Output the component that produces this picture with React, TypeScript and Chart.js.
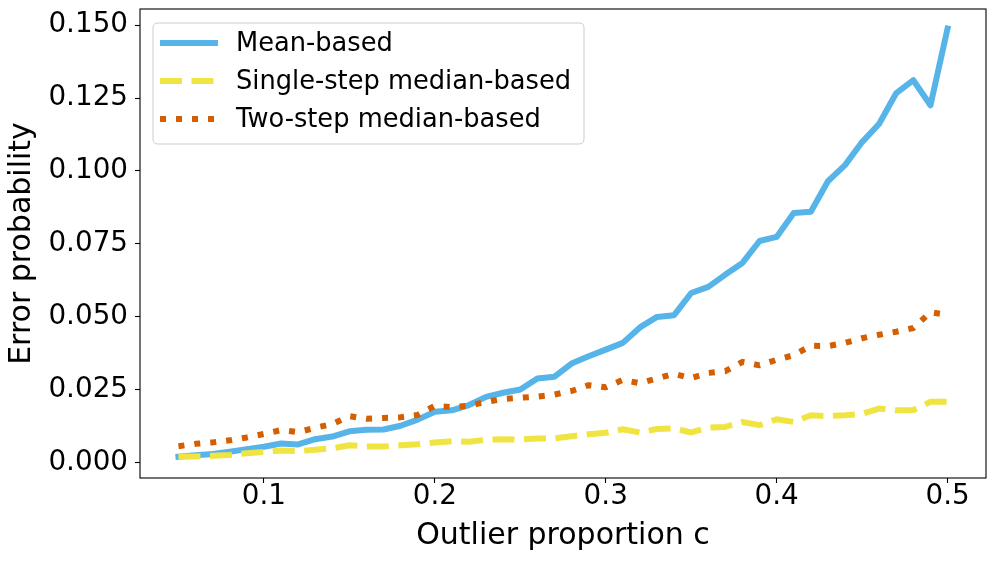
import React, { useEffect, useRef } from "react";
import { Chart, registerables } from "chart.js";

Chart.register(...registerables);

const proportions = [
  0.05, 0.06, 0.07, 0.08, 0.09, 0.1, 0.11, 0.12, 0.13, 0.14, 0.15, 0.16, 0.17, 0.18, 0.19, 0.2,
  0.21, 0.22, 0.23, 0.24, 0.25, 0.26, 0.27, 0.28, 0.29, 0.3, 0.31, 0.32, 0.33, 0.34, 0.35, 0.36,
  0.37, 0.38, 0.39, 0.4, 0.41, 0.42, 0.43, 0.44, 0.45, 0.46, 0.47, 0.48, 0.49, 0.5,
];

const meanBased = [
  0.0021, 0.0026, 0.003, 0.0038, 0.0047, 0.0055, 0.0066, 0.0063, 0.0081, 0.009, 0.0108, 0.0113,
  0.0114, 0.0127, 0.0148, 0.0175, 0.018, 0.0198, 0.0226, 0.024, 0.0251, 0.0289, 0.0295, 0.034,
  0.0365, 0.0388, 0.0411, 0.0464, 0.05, 0.0506, 0.0582, 0.0603, 0.0645, 0.0685, 0.076, 0.0774,
  0.0856, 0.086, 0.0965, 0.102, 0.1099, 0.1162, 0.1267, 0.1311, 0.1225, 0.1488,
];

const singleStep = [
  0.0021, 0.0022, 0.0024, 0.0027, 0.0033, 0.0037, 0.0042, 0.004, 0.0045, 0.005, 0.006, 0.0056,
  0.0056, 0.006, 0.0064, 0.007, 0.0074, 0.0072, 0.0079, 0.0081, 0.008, 0.0083, 0.0084, 0.0091,
  0.0098, 0.0103, 0.0115, 0.0104, 0.0116, 0.0118, 0.0104, 0.0121, 0.0123, 0.014, 0.0129, 0.0149,
  0.014, 0.0163, 0.016, 0.0163, 0.0168, 0.0186, 0.018, 0.0181, 0.0209, 0.0209,
];

const twoStep = [
  0.0057, 0.0065, 0.007, 0.0077, 0.0087, 0.0099, 0.0112, 0.0105, 0.012, 0.0133, 0.016, 0.0151,
  0.0154, 0.0156, 0.0164, 0.0195, 0.0191, 0.0196, 0.0209, 0.0219, 0.0223, 0.0227, 0.0234, 0.0246,
  0.0266, 0.0259, 0.0284, 0.0273, 0.0289, 0.0305, 0.029, 0.0308, 0.0314, 0.0346, 0.0334, 0.0353,
  0.0369, 0.0401, 0.04, 0.0411, 0.0427, 0.0439, 0.0449, 0.0462, 0.0516, 0.0507,
];

const xTicks = [0.1, 0.2, 0.3, 0.4, 0.5];
const yTicks = [0, 0.025, 0.05, 0.075, 0.1, 0.125, 0.15];

const seriesLabels = ["Mean-based", "Single-step median-based", "Two-step median-based"];

const FONT = "'DejaVu Sans', sans-serif";

const framePlugin = {
  id: "frameBox",
  afterDatasetsDraw(chart: any) {
    const { ctx, chartArea: a } = chart;
    ctx.save();
    ctx.strokeStyle = "#000000";
    ctx.lineWidth = 1.1;
    ctx.strokeRect(a.left, a.top, a.right - a.left, a.bottom - a.top);
    ctx.restore();
  },
};

function roundRect(ctx: CanvasRenderingContext2D, x: number, y: number, w: number, h: number, r: number) {
  ctx.beginPath();
  ctx.moveTo(x + r, y);
  ctx.lineTo(x + w - r, y);
  ctx.quadraticCurveTo(x + w, y, x + w, y + r);
  ctx.lineTo(x + w, y + h - r);
  ctx.quadraticCurveTo(x + w, y + h, x + w - r, y + h);
  ctx.lineTo(x + r, y + h);
  ctx.quadraticCurveTo(x, y + h, x, y + h - r);
  ctx.lineTo(x, y + r);
  ctx.quadraticCurveTo(x, y, x + r, y);
  ctx.closePath();
}

const legendPlugin = {
  id: "mplLegend",
  afterDraw(chart: any) {
    const { ctx, chartArea: a } = chart;
    const bx = a.left + 13;
    const by = a.top + 14;
    const bw = 431;
    const bh = 121;
    ctx.save();
    roundRect(ctx, bx, by, bw, bh, 5);
    ctx.fillStyle = "rgba(255,255,255,0.8)";
    ctx.fill();
    ctx.strokeStyle = "#cccccc";
    ctx.lineWidth = 1;
    ctx.stroke();
    const dsets = chart.data.datasets;
    const ordered = [...dsets].sort((p: any, q: any) => p.legendIndex - q.legendIndex);
    ordered.forEach((ds: any, i: number) => {
      const y = by + 20 + i * 38;
      ctx.beginPath();
      ctx.setLineDash(ds.borderDash || []);
      ctx.lineDashOffset = 0;
      ctx.lineCap = "butt";
      ctx.strokeStyle = ds.borderColor;
      ctx.lineWidth = ds.borderWidth;
      ctx.moveTo(bx + 7, y);
      ctx.lineTo(bx + 65, y);
      ctx.stroke();
      ctx.setLineDash([]);
      ctx.fillStyle = "#000000";
      ctx.font = `25.7px ${FONT}`;
      ctx.textBaseline = "middle";
      ctx.textAlign = "left";
      ctx.fillText(ds.label, bx + 83, y + 1);
    });
    ctx.restore();
  },
};

export default function App() {
  const canvasRef = useRef<HTMLCanvasElement | null>(null);

  useEffect(() => {
    const canvas = canvasRef.current;
    if (!canvas) return;
    const toPoints = (vals: number[]) => proportions.map((x, i) => ({ x, y: vals[i] }));
    const chart = new Chart(canvas, {
      type: "line",
      data: {
        datasets: [
          {
            label: seriesLabels[0],
            data: toPoints(meanBased),
            borderColor: "#56B4E9",
            borderWidth: 6,
            borderJoinStyle: "round",
            borderCapStyle: "square",
            pointRadius: 0,
            tension: 0,
            fill: false,
            order: 3,
            legendIndex: 0,
          } as any,
          {
            label: seriesLabels[1],
            data: toPoints(singleStep),
            borderColor: "#F0E442",
            borderWidth: 6,
            borderDash: [22, 9.5],
            borderJoinStyle: "round",
            borderCapStyle: "butt",
            pointRadius: 0,
            tension: 0,
            fill: false,
            order: 2,
            legendIndex: 1,
          } as any,
          {
            label: seriesLabels[2],
            data: toPoints(twoStep),
            borderColor: "#D55E00",
            borderWidth: 6,
            borderDash: [6, 10],
            borderJoinStyle: "round",
            borderCapStyle: "butt",
            pointRadius: 0,
            tension: 0,
            fill: false,
            order: 1,
            legendIndex: 2,
          } as any,
        ],
      },
      options: {
        animation: false,
        responsive: false,
        devicePixelRatio: 1,
        layout: { padding: { top: 9, right: 10, left: 0, bottom: 0 } },
        plugins: {
          legend: { display: false },
          tooltip: { enabled: false },
        },
        scales: {
          x: {
            type: "linear",
            min: 0.0275,
            max: 0.5225,
            afterFit: (s: any) => {
              s.height = 83;
              s.paddingLeft = 0;
              s.paddingRight = 0;
            },
            afterBuildTicks: (s: any) => {
              s.ticks = xTicks.map((v) => ({ value: v }));
            },
            grid: {
              display: true,
              drawOnChartArea: false,
              drawTicks: true,
              tickLength: 5,
              tickColor: "#000000",
              tickWidth: 1.1,
            },
            border: { display: false },
            ticks: {
              color: "#000000",
              padding: 0,
              maxRotation: 0,
              autoSkip: false,
              font: { family: FONT, size: 27.8, lineHeight: 1 },
              callback: (v: any) => Number(v).toFixed(1),
            },
            title: {
              display: true,
              text: "Outlier proportion c",
              color: "#000000",
              font: { family: FONT, size: 30, lineHeight: 1.2 },
              padding: { top: 0, bottom: 7 },
            },
          },
          y: {
            type: "linear",
            min: -0.0052,
            max: 0.1555,
            afterFit: (s: any) => {
              s.width = 140;
              s.paddingTop = 0;
              s.paddingBottom = 0;
            },
            afterBuildTicks: (s: any) => {
              s.ticks = yTicks.map((v) => ({ value: v }));
            },
            grid: {
              display: true,
              drawOnChartArea: false,
              drawTicks: true,
              tickLength: 5,
              tickColor: "#000000",
              tickWidth: 1.1,
            },
            border: { display: false },
            ticks: {
              color: "#000000",
              padding: 7,
              autoSkip: false,
              font: { family: FONT, size: 27.8, lineHeight: 1 },
              callback: (v: any) => Number(v).toFixed(3),
            },
            title: {
              display: true,
              text: "Error probability",
              color: "#000000",
              font: { family: FONT, size: 30, lineHeight: 1.2 },
              padding: { top: 4, bottom: 0 },
            },
          },
        },
      },
      plugins: [framePlugin, legendPlugin],
    });
    return () => {
      chart.destroy();
    };
  }, []);

  return (
    <div style={{ position: "fixed", left: 0, top: 0, width: 996, height: 561, background: "#ffffff" }}>
      <canvas ref={canvasRef} width={996} height={561} style={{ width: 996, height: 561, display: "block" }} />
    </div>
  );
}
